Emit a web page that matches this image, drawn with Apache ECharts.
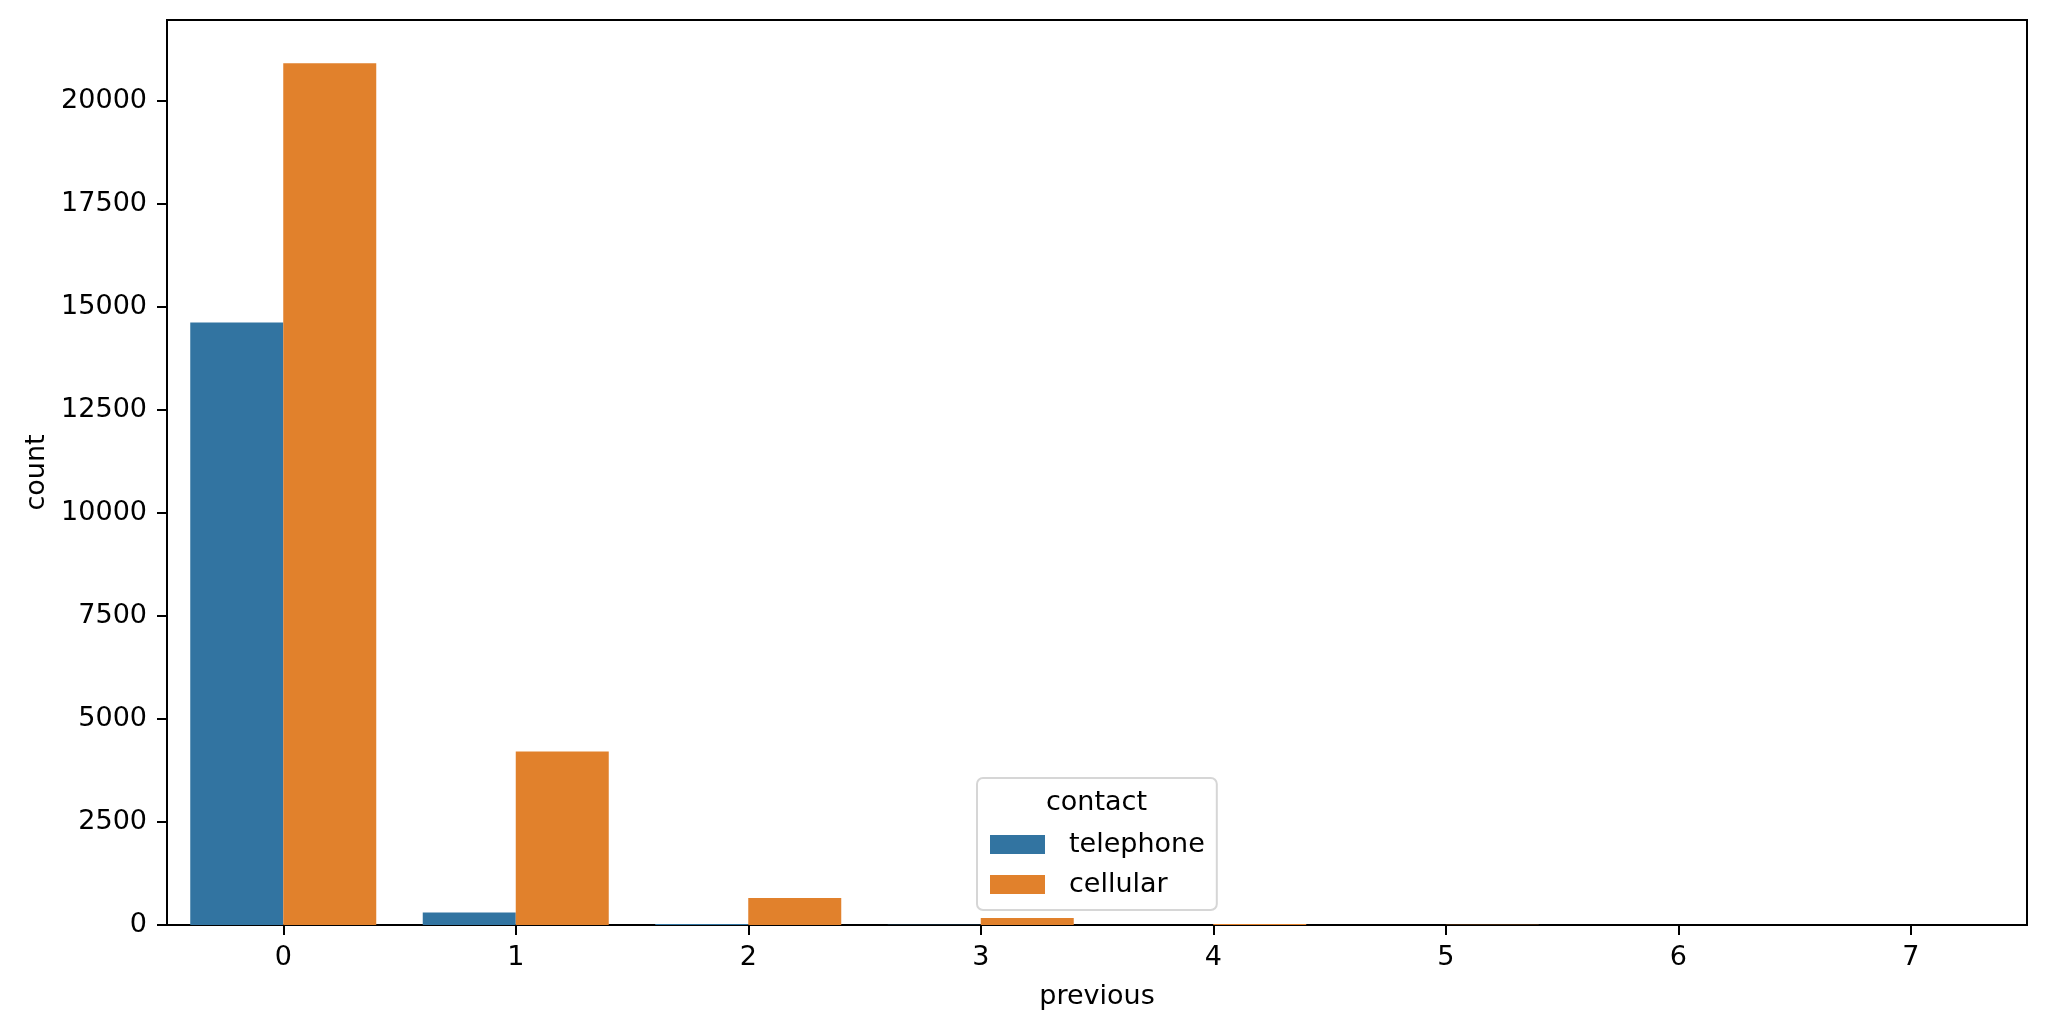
<!DOCTYPE html>
<html>
<head>
<meta charset="utf-8">
<script src="https://cdn.jsdelivr.net/npm/echarts@6/dist/echarts.min.js"></script>
<style>html,body{margin:0;padding:0;background:#fff;}#c{width:2047px;height:1032px;}</style>
</head>
<body>
<div id="c"></div>
<script>
const categories = ['0', '1', '2', '3', '4', '5', '6', '7'];
const telephone = [14620, 305, 25, 5, 3, 1, 0, 0];
const cellular = [20910, 4210, 655, 170, 25, 8, 3, 1];
const yTicks = [0, 2500, 5000, 7500, 10000, 12500, 15000, 17500, 20000];
const yMax = 21962;

const FONT = 'DejaVu Sans';
const chart = echarts.init(document.getElementById('c'), null, {renderer: 'canvas'});
chart.setOption({
  animation: false,
  backgroundColor: '#ffffff',
  textStyle: {fontFamily: FONT},
  grid: {left: 167, right: 20, top: 20, bottom: 107, show: true, borderColor: '#000', borderWidth: 2, containLabel: false},
  legend: {
    orient: 'vertical',
    left: 977, top: 778,
    padding: [53, 12, 12, 13],
    itemWidth: 55, itemHeight: 19, itemGap: 13,
    icon: 'rect',
    backgroundColor: 'rgba(255,255,255,0.8)',
    borderColor: '#d6d6d6', borderWidth: 2, borderRadius: 6,
    textStyle: {fontFamily: FONT, fontSize: 27, color: '#000', padding: [0, 0, 0, 19]},
    data: ['telephone', 'cellular']
  },
  graphic: [{
    type: 'text', z: 100, left: 1097 - 51, top: 789,
    style: {text: 'contact', font: '27px "DejaVu Sans"', fill: '#000'}
  }],
  xAxis: {
    type: 'category', data: categories,
    name: 'previous', nameLocation: 'middle', nameGap: 58,
    nameTextStyle: {fontFamily: FONT, fontSize: 27, color: '#000'},
    axisLine: {show: true, lineStyle: {color: '#000', width: 2}},
    axisTick: {show: true, alignWithLabel: true, length: 10, lineStyle: {color: '#000', width: 2}},
    axisLabel: {fontFamily: FONT, fontSize: 27, color: '#000', margin: 19},
    splitLine: {show: false}
  },
  yAxis: {
    type: 'value', min: 0, max: yMax, interval: 2500,
    name: 'count', nameLocation: 'middle', nameGap: 113,
    nameTextStyle: {fontFamily: FONT, fontSize: 27, color: '#000'},
    axisLine: {show: true, lineStyle: {color: '#000', width: 2}},
    axisTick: {show: true, length: 10, lineStyle: {color: '#000', width: 2}, customValues: yTicks},
    axisLabel: {fontFamily: FONT, fontSize: 27, color: '#000', margin: 20, customValues: yTicks,
      formatter: v => String(v)},
    splitLine: {show: false}
  },
  series: [
    {name: 'telephone', type: 'bar', data: telephone, barGap: '0%', barCategoryGap: '20%', itemStyle: {color: '#3274a1'}},
    {name: 'cellular', type: 'bar', data: cellular, barGap: '0%', barCategoryGap: '20%', itemStyle: {color: '#e1812c'}}
  ]
});
</script>
</body>
</html>
